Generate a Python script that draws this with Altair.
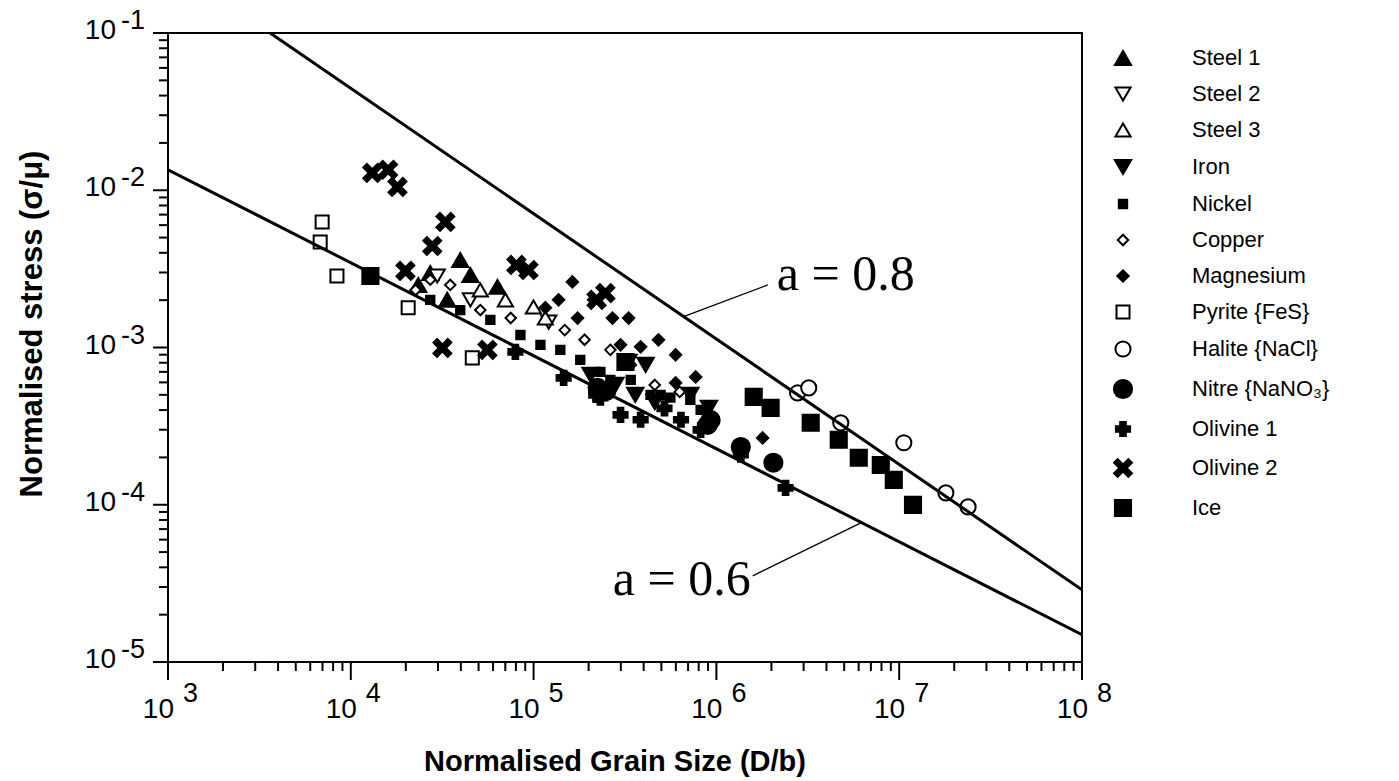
import altair as alt
import pandas as pd

# ---------------- data ----------------
series = ["Steel 1", "Steel 2", "Steel 3", "Iron", "Nickel", "Copper", "Magnesium",
          "Pyrite {FeS}", "Halite {NaCl}", "Nitre {NaNO₃}", "Olivine 1", "Olivine 2", "Ice"]

steel1_x = [3.97e4, 2.72e4, 6.34e4, 3.37e4, 4.51e4, 2.34e4]
steel1_y = [3.60e-3, 2.98e-3, 2.43e-3, 2.01e-3, 2.89e-3, 2.50e-3]
steel2_x = [2.97e4, 1.21e5, 4.51e4]
steel2_y = [2.85e-3, 1.45e-3, 2.01e-3]
steel3_x = [9.98e4, 1.16e5, 5.11e4, 7.01e4]
steel3_y = [1.81e-3, 1.54e-3, 2.32e-3, 2.01e-3]
iron_x = [2.05e5, 2.80e5, 3.60e5, 4.60e5, 9.10e5, 3.30e5, 4.10e5, 7.20e5]
iron_y = [6.70e-4, 5.78e-4, 5.00e-4, 4.50e-4, 4.13e-4, 8.10e-4, 7.75e-4, 5.00e-4]
nickel_x = [2.72e4, 3.97e4, 5.80e4, 8.47e4, 1.09e5, 1.40e5, 1.80e5, 2.32e5, 3.40e5, 4.36e5, 5.60e5, 8.20e5,
            2.63e5, 4.95e5, 7.20e5]
nickel_y = [2.01e-3, 1.73e-3, 1.50e-3, 1.20e-3, 1.04e-3, 9.66e-4, 8.34e-4, 7.00e-4, 6.22e-4, 5.00e-4, 4.80e-4, 4.01e-4,
            6.22e-4, 5.00e-4, 4.64e-4]
copper_x = [2.26e4, 3.50e4, 5.11e4, 7.50e4, 1.48e5, 1.90e5, 2.63e5, 3.40e5, 4.60e5, 6.30e5, 2.72e4]
copper_y = [2.32e-3, 2.50e-3, 1.73e-3, 1.54e-3, 1.29e-3, 1.12e-3, 9.66e-4, 7.75e-4, 5.78e-4, 5.22e-4, 2.70e-3]
magnesium_x = [1.63e5, 1.37e5, 2.13e5, 3.31e5, 2.70e5, 3.85e5, 4.82e5, 5.98e5, 7.70e5, 5.98e5, 1.79e6, 1.74e5,
               1.16e5, 2.99e5]
magnesium_y = [2.61e-3, 2.01e-3, 2.01e-3, 1.54e-3, 1.54e-3, 1.01e-3, 1.12e-3, 8.98e-4, 6.50e-4, 5.96e-4, 2.66e-4, 1.54e-3,
               1.79e-3, 1.04e-3]
pyrite_x = [6.97e3, 6.80e3, 8.40e3, 2.06e4, 4.62e4]
pyrite_y = [6.29e-3, 4.69e-3, 2.85e-3, 1.79e-3, 8.59e-4]
halite_x = [2.78e6, 3.20e6, 4.79e6, 1.06e7, 1.80e7, 2.38e7]
halite_y = [5.14e-4, 5.54e-4, 3.32e-4, 2.48e-4, 1.19e-4, 9.70e-5]
nitre_x = [2.24e5, 2.50e5, 8.95e5, 9.30e5, 1.36e6, 2.05e6]
nitre_y = [5.54e-4, 5.30e-4, 3.22e-4, 3.45e-4, 2.33e-4, 1.85e-4]
olivine1_x = [1.46e5, 2.39e6, 2.99e5, 3.85e5, 2.20e5, 1.36e6, 7.95e4, 5.20e5, 2.32e5, 6.40e5, 8.20e5]
olivine1_y = [6.41e-4, 1.28e-4, 3.73e-4, 3.47e-4, 5.00e-4, 2.08e-4, 9.37e-4, 4.10e-4, 4.79e-4, 3.47e-4, 2.99e-4]
olivine2_x = [1.31e4, 1.60e4, 1.80e4, 3.29e4, 2.79e4, 1.99e4, 8.05e4, 9.37e4, 2.47e5, 3.17e4, 5.59e4, 2.21e5]
olivine2_y = [1.29e-2, 1.35e-2, 1.05e-2, 6.29e-3, 4.42e-3, 3.07e-3, 3.35e-3, 3.11e-3, 2.22e-3, 9.93e-4, 9.66e-4, 2.01e-3]
ice_x = [1.28e4, 3.18e5, 1.60e6, 1.98e6, 3.28e6, 4.67e6, 6.01e6, 7.93e6, 9.34e6, 1.19e7]
ice_y = [2.85e-3, 8.09e-4, 4.85e-4, 4.13e-4, 3.32e-4, 2.59e-4, 1.99e-4, 1.79e-4, 1.44e-4, 9.98e-5]

# fitted lines a = 0.6 and a = 0.8 (end points)
line06_x = [1e3, 1e8]
line06_y = [1.35e-2, 1.49e-5]
line08_x = [3.62e3, 1e8]
line08_y = [1e-1, 2.88e-5]
# leader lines for the labels
lead08_x = [6.61e5, 1.91e6]
lead08_y = [1.57e-3, 2.50e-3]
lead06_x = [1.58e6, 6.17e6]
lead06_y = [3.53e-5, 7.67e-5]
label_text = ["a = 0.8", "a = 0.6"]
label_x = [2.14e6, 1.54e6]
label_y = [2.32e-3, 2.67e-5]
label_side = ["left", "right"]

# axis titles, ticks and tick labels
x_title = "Normalised Grain Size (D/b)"
y_title = "Normalised stress (σ/μ)"
x_ticks = [1e3, 1e4, 1e5, 1e6, 1e7, 1e8]
x_exp = ["3", "4", "5", "6", "7", "8"]
y_ticks = [1e-1, 1e-2, 1e-3, 1e-4, 1e-5]
y_exp = ["-1", "-2", "-3", "-4", "-5"]
x_minor = [m * 10.0 ** d for d in range(3, 8) for m in range(2, 10)]
y_minor = [m * 10.0 ** d for d in range(-5, -1) for m in range(2, 10)]

# ---------------- build tables ----------------
pairs = [(steel1_x, steel1_y), (steel2_x, steel2_y), (steel3_x, steel3_y), (iron_x, iron_y),
         (nickel_x, nickel_y), (copper_x, copper_y), (magnesium_x, magnesium_y),
         (pyrite_x, pyrite_y), (halite_x, halite_y), (nitre_x, nitre_y),
         (olivine1_x, olivine1_y), (olivine2_x, olivine2_y), (ice_x, ice_y)]
rows = []
for name, (xv, yv) in zip(series, pairs):
    for a, b in zip(xv, yv):
        rows.append({"x": a, "y": b, "series": name})
pts = pd.DataFrame(rows)

main_lines = pd.DataFrame({"x": line06_x + line08_x, "y": line06_y + line08_y,
                           "id": ["a06"] * 2 + ["a08"] * 2})
lead_lines = pd.DataFrame({"x": lead08_x + lead06_x, "y": lead08_y + lead06_y,
                           "id": ["l08"] * 2 + ["l06"] * 2})
labels = pd.DataFrame({"x": label_x, "y": label_y, "t": label_text, "side": label_side})
xt = pd.DataFrame({"x": x_ticks, "e": x_exp})
yt = pd.DataFrame({"y": y_ticks, "e": y_exp})
xm = pd.DataFrame({"x": x_minor})
ym = pd.DataFrame({"y": y_minor})
titles = pd.DataFrame({"xt": [x_title], "yt": [y_title]})

W, H = 914, 629
xs = alt.Scale(type="log", domain=[1e3, 1e8], nice=False)
ys = alt.Scale(type="log", domain=[1e-5, 1e-1], nice=False)
SANS = "Liberation Sans Narrow, Arial Narrow, Liberation Sans, sans-serif"
XPATH = "M-1,-0.6L-0.6,-1L0,-0.4L0.6,-1L1,-0.6L0.4,0L1,0.6L0.6,1L0,0.4L-0.6,1L-1,0.6L-0.4,0Z"

shape_range = ["triangle-up", "triangle-down", "triangle-up", "triangle-down", "square", "diamond",
               "diamond", "square", "circle", "circle", "cross", XPATH, "square"]
fill_range = ["black", "white", "white", "black", "black", "white", "black",
              "white", "white", "black", "black", "black", "black"]
stroke_range = ["black"] * len(series)
size_range = [260, 230, 230, 270, 70, 110, 130, 170, 230, 330, 200, 320, 260]

legend = alt.Legend(orient="none", legendX=944, legendY=14, title=None, padding=0,
                    labelFont="Liberation Sans", labelFontSize=22, labelColor="black",
                    labelOffset=58, rowPadding=14, symbolStrokeColor="black",
                    symbolStrokeWidth=2, symbolOpacity=1)

NOX = dict(scale=xs, axis=None)
NOY = dict(scale=ys, axis=None)

points = alt.Chart(pts).mark_point(filled=True, opacity=1, strokeWidth=2).encode(
    x=alt.X("x:Q", **NOX),
    y=alt.Y("y:Q", **NOY),
    shape=alt.Shape("series:N", scale=alt.Scale(domain=series, range=shape_range), legend=legend),
    fill=alt.Fill("series:N", scale=alt.Scale(domain=series, range=fill_range), legend=legend),
    stroke=alt.Stroke("series:N", scale=alt.Scale(domain=series, range=stroke_range), legend=legend),
    size=alt.Size("series:N", scale=alt.Scale(type="ordinal", domain=series, range=size_range),
                  legend=legend),
)

# tick marks drawn as rules from the tick value lists
xmaj = alt.Chart(xt).mark_rule(color="black", strokeWidth=2).encode(
    x=alt.X("x:Q", **NOX), y=alt.value(H), y2=alt.value(H + 18))
xmin = alt.Chart(xm).mark_rule(color="black", strokeWidth=2).encode(
    x=alt.X("x:Q", **NOX), y=alt.value(H), y2=alt.value(H + 9))
ymaj = alt.Chart(yt).mark_rule(color="black", strokeWidth=2).encode(
    y=alt.Y("y:Q", **NOY), x=alt.value(0), x2=alt.value(-15))
ymin = alt.Chart(ym).mark_rule(color="black", strokeWidth=2).encode(
    y=alt.Y("y:Q", **NOY), x=alt.value(0), x2=alt.value(-9))

lines = alt.Chart(main_lines).mark_line(color="black", strokeWidth=3, clip=True).encode(
    x=alt.X("x:Q", **NOX), y=alt.Y("y:Q", **NOY), detail="id:N")

leaders = alt.Chart(lead_lines).mark_line(color="black", strokeWidth=1.3).encode(
    x=alt.X("x:Q", **NOX), y=alt.Y("y:Q", **NOY), detail="id:N")

ann_base = alt.Chart(labels).encode(x=alt.X("x:Q", **NOX), y=alt.Y("y:Q", **NOY), text="t:N")
ann_l = ann_base.mark_text(font="Liberation Serif", fontSize=50, color="black",
                           baseline="alphabetic", align="left").transform_filter(
    alt.datum.side == "left")
ann_r = ann_base.mark_text(font="Liberation Serif", fontSize=50, color="black",
                           baseline="alphabetic", align="right").transform_filter(
    alt.datum.side == "right")

x10 = alt.Chart(xt).mark_text(font=SANS, fontSize=28, color="black", align="right",
                              baseline="alphabetic", dx=6).encode(
    x=alt.X("x:Q", **NOX), y=alt.value(H + 56), text=alt.value("10"))
xe = alt.Chart(xt).mark_text(font=SANS, fontSize=27, color="black", align="left",
                             baseline="alphabetic", dx=15).encode(
    x=alt.X("x:Q", **NOX), y=alt.value(H + 40), text="e:N")
y10 = alt.Chart(yt).mark_text(font=SANS, fontSize=28, color="black", align="right",
                              baseline="alphabetic", dy=6).encode(
    y=alt.Y("y:Q", **NOY), x=alt.value(-52), text=alt.value("10"))
ye = alt.Chart(yt).mark_text(font=SANS, fontSize=27, color="black", align="left",
                             baseline="alphabetic", dy=-4).encode(
    y=alt.Y("y:Q", **NOY), x=alt.value(-47), text="e:N")

xtitle = alt.Chart(titles).mark_text(font="Liberation Sans", fontSize=29, fontWeight="bold",
                                     color="black", align="center", baseline="middle").encode(
    x=alt.value(447), y=alt.value(H + 100), text="xt:N")
ytitle = alt.Chart(titles).mark_text(font="Liberation Sans", fontSize=31, fontWeight="bold",
                                     color="black", align="center", baseline="middle",
                                     angle=270).encode(
    x=alt.value(-135), y=alt.value(291), text="yt:N")

chart = alt.layer(points, xmaj, xmin, ymaj, ymin, lines, leaders, ann_l, ann_r,
                  x10, xe, y10, ye, xtitle, ytitle).properties(
    width=W, height=H,
    autosize=alt.AutoSizeParams(type="none"),
    padding={"left": 168, "top": 33, "right": 1399 - 168 - W, "bottom": 781 - 33 - H},
    background="white",
).configure_view(stroke="black", strokeWidth=2)

chart.save("out.html", embed_options={"renderer": "svg", "actions": False})
